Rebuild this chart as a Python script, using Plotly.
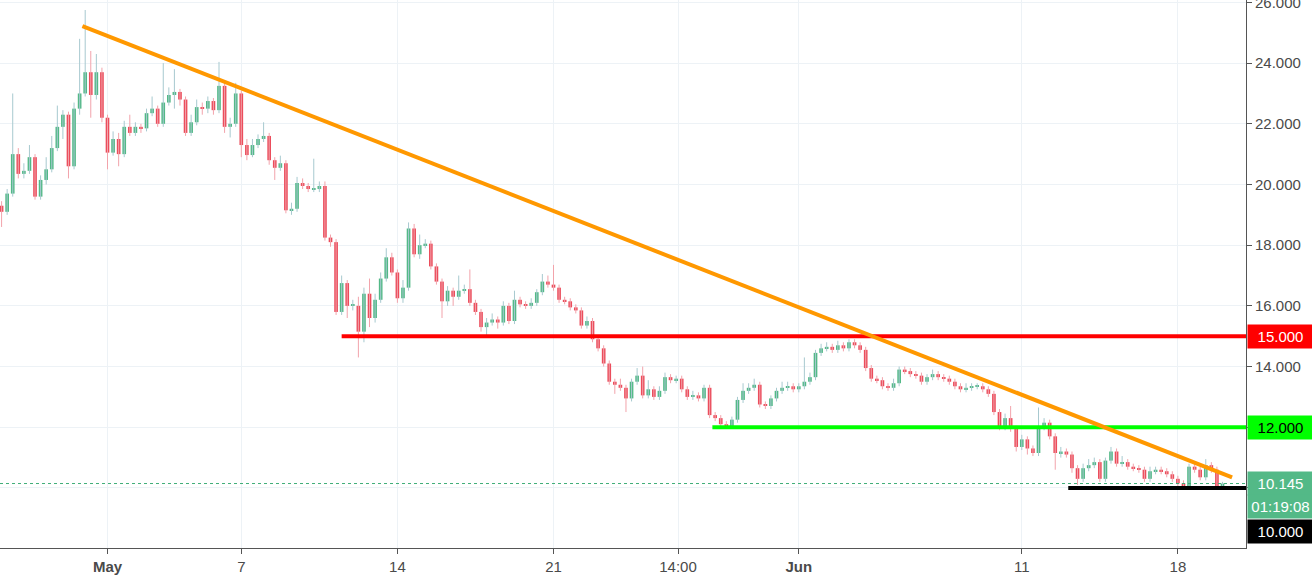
import plotly.graph_objects as go
import pandas as pd

# ---------------- data (6-hour candles) ----------------
START = "2018-04-26 06:00"
FIRST_OPEN = 19.3
closes = [
    19.1, 19.7, 21.0, 20.35, 20.45, 20.9, 19.6, 20.15, 20.5, 21.2,
    21.9, 22.3, 20.6, 22.5, 23.0, 23.7, 22.95, 23.7, 22.2, 21.05,
    21.5, 21.0, 21.9, 21.7, 21.9, 21.85, 22.35, 22.5, 22.0, 22.7,
    22.95, 23.05, 22.8, 21.7, 22.05, 22.55, 22.5, 22.75, 22.45, 23.25,
    21.9, 22.0, 23.0, 21.3, 20.97, 21.3, 21.5, 21.6, 20.8, 20.55,
    20.7, 19.15, 19.2, 20.05, 19.95, 19.85, 19.85, 19.95, 18.25, 18.1,
    15.8, 16.75, 16.0, 16.0, 15.15, 16.4, 15.6, 16.2, 16.9, 17.6,
    17.1, 16.25, 16.6, 18.55, 17.7, 18.0, 18.05, 17.3, 16.8, 16.15,
    16.5, 16.3, 16.5, 16.55, 16.1, 15.8, 15.3, 15.45, 15.55, 15.45,
    16.0, 15.5, 16.2, 16.05, 16.0, 16.1, 16.45, 16.8, 16.7, 16.6,
    16.2, 16.15, 15.95, 15.85, 15.35, 15.5, 14.9, 14.6, 14.1, 13.5,
    13.4, 13.3, 12.95, 13.5, 13.7, 13.05, 13.25, 13.0, 13.2, 13.65,
    13.55, 13.6, 13.25, 13.0, 13.05, 12.95, 13.3, 12.4, 12.3, 12.1,
    12.0, 12.25, 12.9, 13.2, 13.3, 13.4, 12.75, 12.7, 12.95, 13.2,
    13.3, 13.35, 13.25, 13.35, 13.5, 13.65, 14.45, 14.6, 14.65, 14.55,
    14.7, 14.6, 14.8, 14.7, 14.55, 13.95, 13.6, 13.55, 13.35, 13.3,
    13.45, 13.9, 13.85, 13.75, 13.7, 13.5, 13.65, 13.75, 13.65, 13.6,
    13.5, 13.35, 13.25, 13.3, 13.35, 13.35, 13.25, 13.1, 12.5, 12.0,
    12.3, 11.95, 11.35, 11.6, 11.3, 11.15, 12.0, 12.15, 11.7, 11.15,
    11.2, 11.1, 10.65, 10.3, 10.65, 10.75, 10.85, 10.3, 10.9, 11.2,
    10.8, 10.85, 10.7, 10.65, 10.6, 10.3, 10.55, 10.6, 10.55, 10.45,
    10.3, 10.15, 10.05, 10.7, 10.6, 10.35, 10.75, 10.6, 10.05, 10.145,
]
highs = [
    19.45, 19.85, 23.0, 21.2, 20.7, 21.3, 21.0, 20.3, 20.9, 21.6,
    22.6, 22.45, 22.4, 22.7, 24.8, 25.75, 24.4, 24.3, 23.85, 22.3,
    21.75, 21.7, 22.1, 22.3, 22.05, 22.0, 22.5, 22.9, 22.6, 24.0,
    23.2, 23.8, 23.15, 22.9, 22.3, 22.8, 22.7, 22.9, 22.85, 24.04,
    23.4, 22.2, 23.35, 23.1, 21.5, 21.5, 21.65, 22.05, 21.7, 20.9,
    20.95, 20.8, 19.4, 20.25, 20.2, 20.05, 20.85, 20.1, 20.1, 18.35,
    18.2, 17.0, 16.85, 16.2, 16.3, 16.6, 16.9, 16.4, 17.1, 17.9,
    17.75, 17.2, 16.85, 18.75, 18.7, 18.35, 18.2, 18.15, 17.4, 16.9,
    16.65, 16.6, 17.0, 16.7, 17.2, 16.2, 15.9, 15.6, 15.75, 15.65,
    16.15, 16.1, 16.5, 16.3, 16.15, 16.25, 16.55, 17.05, 17.0, 17.35,
    16.7, 16.3, 16.25, 16.05, 15.95, 15.65, 15.6, 15.0, 14.7, 14.2,
    13.6, 13.6, 13.4, 13.6, 13.95, 14.0, 13.55, 13.35, 13.35, 13.8,
    13.75, 13.7, 13.7, 13.35, 13.2, 13.15, 13.4, 13.4, 12.5, 12.4,
    12.2, 12.35, 13.0, 13.45, 13.45, 13.6, 13.5, 12.85, 13.05, 13.3,
    13.5, 13.5, 13.45, 13.45, 14.3, 13.8, 14.55, 14.75, 14.8, 14.75,
    14.85, 14.8, 14.9, 14.9, 14.8, 14.65, 14.05, 13.7, 13.65, 13.45,
    13.6, 14.0, 14.0, 13.95, 13.85, 13.8, 13.75, 13.9, 13.85, 13.75,
    13.7, 13.6, 13.45, 13.45, 13.45, 13.45, 13.45, 13.35, 13.2, 12.6,
    12.45, 12.7, 12.05, 11.75, 11.7, 11.4, 12.65, 12.3, 12.25, 11.8,
    11.35, 11.3, 11.2, 10.75, 10.8, 10.95, 11.0, 10.95, 11.0, 11.35,
    11.3, 11.05, 10.95, 10.8, 10.75, 10.7, 10.7, 10.7, 10.7, 10.65,
    10.55, 10.4, 10.25, 10.8, 10.85, 10.7, 10.95, 10.85, 10.7, 10.2,
]
lows = [
    18.6, 19.0, 19.6, 20.2, 20.2, 20.35, 19.5, 19.5, 20.0, 20.4,
    21.1, 21.5, 20.2, 20.5, 22.3, 22.9, 22.2, 22.8, 22.05, 20.5,
    20.95, 20.6, 20.9, 21.6, 21.6, 21.7, 21.75, 22.25, 21.9, 21.9,
    22.6, 22.5, 22.6, 21.6, 21.6, 21.95, 22.3, 22.35, 22.3, 22.35,
    21.7, 21.55, 21.9, 20.9, 20.8, 20.9, 21.2, 21.4, 20.65, 20.15,
    20.45, 19.05, 19.0, 19.1, 19.85, 19.75, 19.75, 19.75, 18.15, 17.95,
    15.7, 15.7, 15.6, 15.85, 14.3, 14.8, 15.3, 15.45, 16.1, 16.8,
    17.0, 16.1, 16.1, 16.5, 17.6, 17.55, 17.9, 17.2, 16.7, 15.6,
    16.0, 16.0, 16.2, 16.4, 16.0, 15.7, 15.15, 14.95, 15.35, 15.25,
    15.35, 15.4, 15.4, 15.95, 15.9, 15.9, 16.0, 16.35, 16.6, 16.5,
    16.1, 16.05, 15.85, 15.75, 15.25, 15.25, 14.8, 14.5, 14.0, 13.4,
    13.1, 13.2, 12.5, 12.85, 13.4, 12.95, 12.95, 12.9, 12.9, 13.1,
    13.45, 13.45, 13.15, 12.9, 12.9, 12.85, 12.85, 12.3, 12.2, 12.0,
    11.95, 11.95, 12.15, 12.8, 13.1, 13.2, 12.65, 12.6, 12.6, 12.85,
    13.1, 13.2, 13.15, 13.15, 13.25, 13.4, 13.55, 14.35, 14.5, 14.45,
    14.45, 14.5, 14.5, 14.6, 14.45, 13.85, 13.5, 13.45, 13.25, 13.2,
    13.2, 13.35, 13.75, 13.65, 13.6, 13.4, 13.4, 13.55, 13.55, 13.5,
    13.4, 13.25, 13.15, 13.15, 13.2, 13.25, 13.15, 13.0, 12.4, 11.9,
    11.9, 11.85, 11.2, 11.25, 11.1, 11.05, 11.05, 11.9, 11.6, 10.6,
    11.0, 11.0, 10.5, 10.1, 10.2, 10.55, 10.65, 10.2, 10.2, 10.8,
    10.7, 10.7, 10.6, 10.55, 10.5, 10.2, 10.2, 10.45, 10.45, 10.35,
    10.2, 10.05, 9.98, 10.0, 10.5, 10.25, 10.25, 10.5, 9.98, 10.0,
]

# annotation levels / drawn lines
TREND_X = ["2018-04-29 21:00", "2018-06-20 10:20"]
TREND_Y = [25.22, 10.35]
RESIST_START, RESIST = "2018-05-11 12:00", 15.0
GREEN_START, GREEN_LEVEL = "2018-05-28 03:00", 12.0
SUPPORT_START, SUPPORT = "2018-06-13 02:00", 10.0
LAST_PRICE = 10.145
COUNTDOWN = "01:19:08"

X_RANGE = ["2018-04-26 04:18", "2018-06-21 01:18"]
Y_RANGE = [8.02, 26.08]
X_TICK_VALS = ["2018-05-01", "2018-05-07", "2018-05-14", "2018-05-21",
               "2018-05-26 14:00", "2018-06-01", "2018-06-11", "2018-06-18"]
X_TICK_TEXT = ["<b>May</b>", "7", "14", "21", "14:00", "<b>Jun</b>", "11", "18"]
Y_TICK_VALS = [10, 12, 14, 16, 18, 20, 22, 24, 26]
# 10 and 12 are covered by the coloured price tags
Y_TICK_TEXT = ["", "", "14.000", "16.000", "18.000", "20.000", "22.000", "24.000", "26.000"]

# ---------------- figure ----------------
UP, DOWN = "#53b987", "#eb4d5c"
UP_WICK, DOWN_WICK = "#a7c9cf", "#f2a3ab"
FONT = "Liberation Sans, Arial, sans-serif"

times = pd.date_range(START, periods=len(closes), freq="6h")
opens = [FIRST_OPEN] + closes[:-1]
is_up = [c >= o for o, c in zip(opens, closes)]

fig = go.Figure()

for up, col in ((True, UP_WICK), (False, DOWN_WICK)):
    wx, wy = [], []
    for t, h, l, u in zip(times, highs, lows, is_up):
        if u == up:
            wx += [t, t, None]
            wy += [l, h, None]
    fig.add_trace(go.Scatter(x=wx, y=wy, mode="lines",
                             line=dict(color=col, width=1), hoverinfo="skip"))

base = [min(o, c) for o, c in zip(opens, closes)]
height = [max(abs(c - o), 0.035) for o, c in zip(opens, closes)]
fig.add_trace(go.Bar(x=times, y=height, base=base,
                     width=6 * 3600 * 1000 * 0.66,
                     marker=dict(color=[UP if u else DOWN for u in is_up], line=dict(width=0)),
                     hoverinfo="skip"))

# dotted last price line
fig.add_trace(go.Scatter(x=X_RANGE, y=[LAST_PRICE, LAST_PRICE], mode="lines",
                         line=dict(color="#3fae78", width=1, dash="dot"), hoverinfo="skip"))
# horizontal levels
for x0, lvl, col in ((RESIST_START, RESIST, "#ff0000"),
                     (GREEN_START, GREEN_LEVEL, "#00ff00"),
                     (SUPPORT_START, SUPPORT, "#000000")):
    fig.add_trace(go.Scatter(x=[x0, X_RANGE[1]], y=[lvl, lvl], mode="lines",
                             line=dict(color=col, width=4), hoverinfo="skip"))
# trend line
fig.add_trace(go.Scatter(x=TREND_X, y=TREND_Y, mode="lines",
                         line=dict(color="#ff9800", width=4), hoverinfo="skip"))


def tag(yval, text, bg, fg, yshift=0):
    return dict(x=1, xref="paper", xanchor="left", xshift=1,
                y=yval, yref="y", yanchor="middle", yshift=yshift,
                text=text, showarrow=False, bgcolor=bg,
                font=dict(color=fg, size=15, family=FONT),
                width=63, height=21, borderpad=1, align="center")


annotations = [
    tag(RESIST, f"{RESIST:.3f}", "#ff0000", "#ffffff"),
    tag(GREEN_LEVEL, f"{GREEN_LEVEL:.3f}", "#00ff00", "#000000"),
    tag(LAST_PRICE, f"{LAST_PRICE:.3f}", UP, "#ffffff"),
    tag(LAST_PRICE, COUNTDOWN, UP, "#ffffff", yshift=-23),
    tag(SUPPORT, f"{SUPPORT:.3f}", "#000000", "#ffffff", yshift=-44),
]

fig.update_layout(
    width=1312, height=576,
    margin=dict(l=0, r=66, t=0, b=28),
    paper_bgcolor="white", plot_bgcolor="white",
    showlegend=False, barmode="overlay",
    font=dict(family=FONT, size=15, color="#4a4a4a"),
    annotations=annotations,
    xaxis=dict(type="date", range=X_RANGE, tickvals=X_TICK_VALS, ticktext=X_TICK_TEXT,
               automargin=False,
               showgrid=True, gridcolor="#edf2f6", gridwidth=1,
               showline=True, linecolor="#555555", linewidth=1,
               ticks="outside", ticklen=5, tickcolor="#555555",
               tickfont=dict(size=15, color="#4a4a4a"), zeroline=False),
    yaxis=dict(side="right", range=Y_RANGE, tickvals=Y_TICK_VALS, ticktext=Y_TICK_TEXT,
               ticklabeloverflow="allow", automargin=False,
               showgrid=True, gridcolor="#edf2f6", gridwidth=1,
               showline=True, linecolor="#555555", linewidth=1,
               ticks="outside", ticklen=5, tickcolor="#555555",
               tickfont=dict(size=15, color="#4a4a4a"), zeroline=False),
)

fig.write_html("out.html")
